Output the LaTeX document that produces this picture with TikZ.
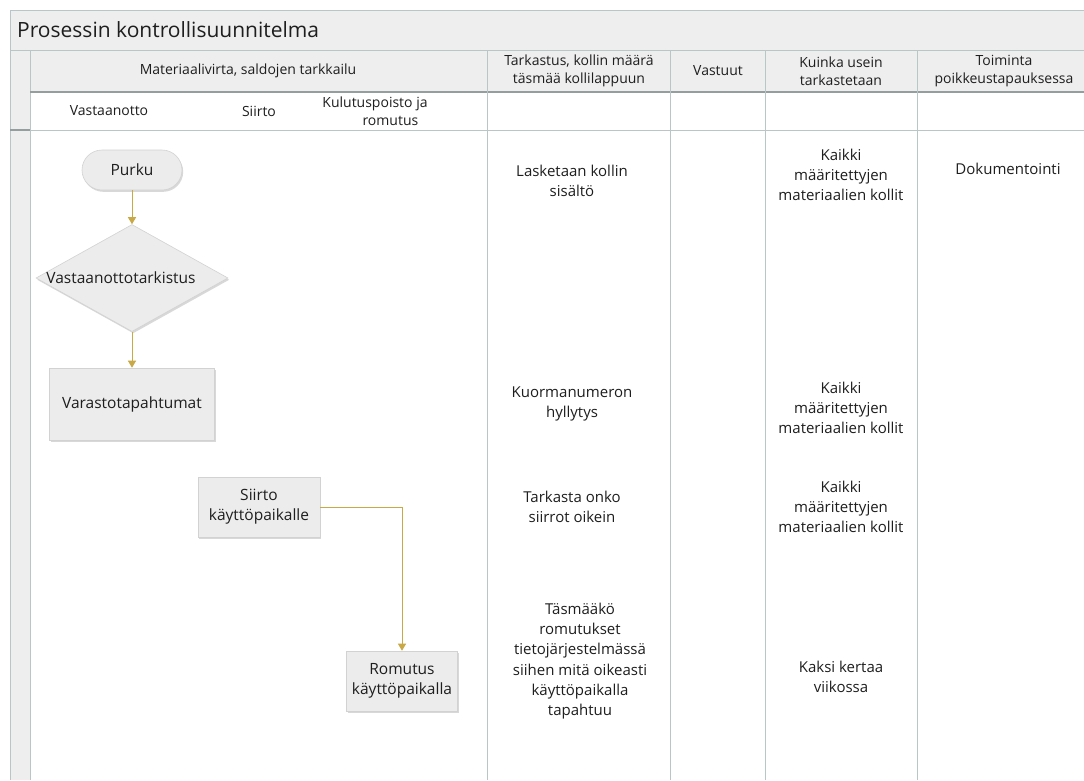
\documentclass[tikz,border=0pt]{standalone}
\usepackage{fontspec}
\setmainfont{Open Sans}
\usetikzlibrary{arrows.meta,shapes.geometric,shadows}
\definecolor{bandfill}{HTML}{EEEEEE}
\definecolor{gridline}{HTML}{B9C6C6}
\definecolor{shapefill}{HTML}{ECECEC}
\definecolor{shapeline}{HTML}{D2D2D2}
\definecolor{flowgold}{HTML}{C9A846}
\definecolor{ink}{HTML}{1E1E1E}
\begin{document}
\begin{tikzpicture}[x=1pt,y=-1pt,
  txt/.style={font=\fontsize{15}{20.3}\selectfont, text=ink, align=center, inner sep=0pt},
  shapetxt/.style={font=\fontsize{15.5}{20.3}\selectfont, text=ink, align=center, inner sep=0pt},
  hdr/.style={font=\fontsize{14}{18}\selectfont, text=ink, align=center, inner sep=0pt},
  boxshadow/.style={drop shadow={shadow xshift=1.2pt, shadow yshift=-1.8pt, opacity=0.25, fill=black!60}},
  procbox/.style={draw=shapeline, fill=shapefill, line width=0.6pt, boxshadow, shapetxt},
  startbox/.style={procbox, rounded corners=20pt},
  decision/.style={diamond, draw=shapeline, fill=shapefill, line width=0.6pt, boxshadow, inner sep=0pt},
  flow/.style={draw=flowgold, line width=0.9pt, -{Triangle[length=7pt,width=8pt]}},
  grid/.style={draw=gridline, line width=0.8pt}
]
\useasboundingbox (0,0) rectangle (1084,780);
\fill[white] (0,0) rectangle (1084,780);

% title band and header row
\fill[bandfill] (10,10) rectangle (1084,50);
\fill[bandfill] (10,50) rectangle (30,780);
\fill[bandfill] (30,50) rectangle (1084,92);
\draw[grid] (1084,10) -- (10,10) -- (10,780);
\draw[grid] (10,50) -- (1084,50);
\draw[grid] (30,50) -- (30,780);
\draw[draw=gridline!80!black, line width=1.2pt] (30,92) -- (1084,92);
\draw[grid, line width=0.6pt] (30,130) -- (1084,130);
\draw[draw=gridline!80!black, line width=1.5pt] (10,130) -- (30,130);
\foreach \xx in {487,670,765,917} \draw[grid] (\xx,50) -- (\xx,780);

\node[anchor=west, font=\fontsize{21}{24}\selectfont, text=ink, inner sep=0pt] (title) at (17,30) {Prosessin kontrollisuunnitelma};

% column headers
\node[hdr] (h1) at (248,71) {Materiaalivirta, saldojen tarkkailu};
\node[hdr] (h2) at (579,71) {Tarkastus, kollin määrä\\täsmää kollilappuun};
\node[hdr] (h3) at (718,71) {Vastuut};
\node[hdr] (h4) at (841,71) {Kuinka usein\\tarkastetaan};
\node[hdr] (h5) at (1004,71) {Toiminta\\poikkeustapauksessa};

% lane headers
\node[hdr] (l1) at (109,111) {Vastaanotto};
\node[hdr] (l2) at (259,111) {Siirto};
\node[hdr] (l3) at (375,111) {Kulutuspoisto ja\\\hspace*{2.2em}romutus};

% process flow
\node[startbox, minimum width=100pt, minimum height=40pt] (purku) at (132,170) {Purku};
\node[decision, minimum width=192pt, minimum height=107pt] (check) at (132,278) {};
\node[shapetxt] (checktxt) at (121,278) {Vastaanottotarkistus};
\node[procbox, minimum width=165pt, minimum height=72pt] (stock) at (132,404) {Varastotapahtumat};
\node[procbox, minimum width=122pt, minimum height=60pt] (move) at (259,507) {Siirto\\käyttöpaikalle};
\node[procbox, minimum width=111pt, minimum height=60pt] (scrap) at (402,681) {Romutus\\käyttöpaikalla};

\draw[flow] (purku.south) -- (check.north);
\draw[flow] (check.south) -- (stock.north);
\draw[flow] (move.east) -| (scrap.north);

% inspection column
\node[txt] (c1) at (572,181) {Lasketaan kollin\\sisältö};
\node[txt] (c2) at (572,404) {Kuormanumeron\\hyllytys};
\node[txt] (c3) at (572,507) {Tarkasta onko\\siirrot oikein};
\node[txt] (c4) at (580,661) {Täsmääkö\\romutukset\\tietojärjestelmässä\\siihen mitä oikeasti\\käyttöpaikalla\\tapahtuu};

% frequency column
\node[txt] (f1) at (841,175) {Kaikki\\määritettyjen\\materiaalien kollit};
\node[txt] (f2) at (841,408) {Kaikki\\määritettyjen\\materiaalien kollit};
\node[txt] (f3) at (841,507) {Kaikki\\määritettyjen\\materiaalien kollit};
\node[txt] (f4) at (841,677) {Kaksi kertaa\\viikossa};

% exception handling column
\node[txt] (e1) at (1008,169) {Dokumentointi};
\end{tikzpicture}
\end{document}
